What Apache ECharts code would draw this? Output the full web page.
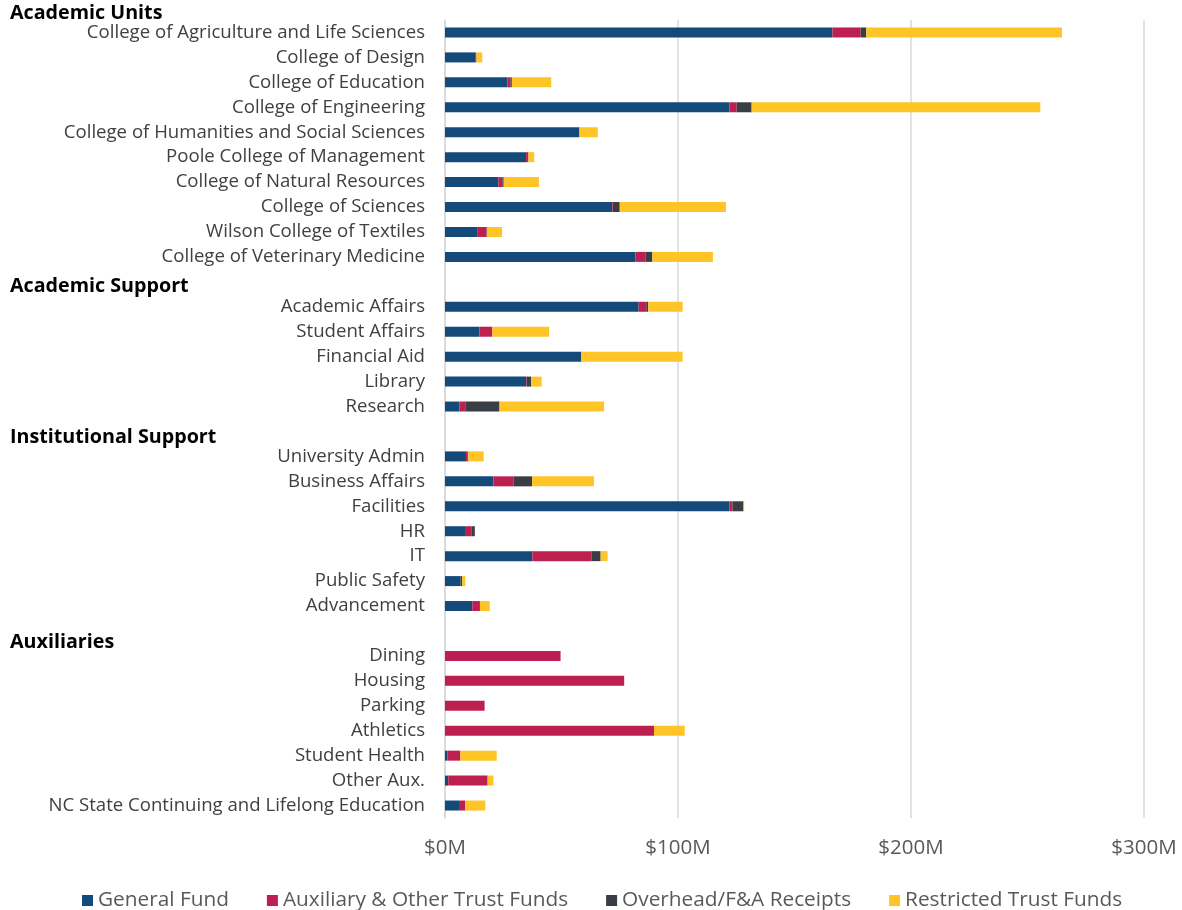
<!DOCTYPE html>
<html>
<head>
<meta charset="utf-8">
<script src="https://cdn.jsdelivr.net/npm/echarts@6/dist/echarts.min.js"></script>
<style>
  html, body { margin: 0; padding: 0; background: #ffffff; }
  #chart { width: 1182px; height: 910px; }
</style>
</head>
<body>
<div id="chart"></div>
<script>
// Category rows (blank strings are the group-header / spacer rows)
const categories = [
  'College of Agriculture and Life Sciences', 'College of Design', 'College of Education',
  'College of Engineering', 'College of Humanities and Social Sciences', 'Poole College of Management',
  'College of Natural Resources', 'College of Sciences', 'Wilson College of Textiles',
  'College of Veterinary Medicine',
  ' ',
  'Academic Affairs', 'Student Affairs', 'Financial Aid', 'Library', 'Research',
  '  ',
  'University Admin', 'Business Affairs', 'Facilities', 'HR', 'IT', 'Public Safety', 'Advancement',
  '   ',
  'Dining', 'Housing', 'Parking', 'Athletics', 'Student Health', 'Other Aux.',
  'NC State Continuing and Lifelong Education'
];

// Values in $M
const generalFund = [166.3, 13.2, 26.8, 122.1, 57.7, 34.8, 22.9, 71.8, 13.8, 81.7, null,
  83.1, 14.8, 58.5, 34.8, 6.2, null,
  9.0, 20.8, 122.1, 8.6, 37.5, 6.6, 11.7, null,
  0, 0, 0, 0, 1.0, 1.4, 6.4];
const auxiliaryOther = [12.1, 0.3, 1.3, 3.1, 0, 1.0, 1.7, 0.3, 4.0, 4.3, null,
  3.3, 5.5, 0, 0.3, 2.5, null,
  0.6, 8.7, 1.3, 2.7, 25.5, 0, 3.3, null,
  49.6, 76.9, 17.0, 89.7, 5.6, 16.9, 2.3];
const overheadFA = [2.4, 0, 0.6, 6.4, 0, 0, 0.6, 2.9, 0.2, 3.0, null,
  0.8, 0, 0, 1.9, 14.7, null,
  0.4, 7.9, 4.7, 1.5, 3.8, 0.8, 0, null,
  0, 0, 0, 0, 0, 0, 0];
const restricted = [84.0, 2.5, 16.9, 123.9, 7.9, 2.5, 15.1, 45.6, 6.5, 26.0, null,
  14.8, 24.4, 43.5, 4.5, 44.9, null,
  6.6, 26.5, 0.3, 0, 3.0, 1.3, 4.2, null,
  0, 0, 0, 13.2, 15.6, 2.5, 8.6];

const seriesNames = ['General Fund', 'Auxiliary & Other Trust Funds', 'Overhead/F&A Receipts', 'Restricted Trust Funds'];
const seriesColors = ['#134A7A', '#BE1F51', '#383E44', '#FFC425'];
const seriesValues = [generalFund, auxiliaryOther, overheadFA, restricted];

// Group headers and their label centre heights
const groupHeaders = ['Academic Units', 'Academic Support', 'Institutional Support', 'Auxiliaries'];
const groupHeaderY = [13, 286, 437, 642];

const xTicks = [0, 100, 200, 300];

const chart = echarts.init(document.getElementById('chart'), null, { renderer: 'canvas' });
const FONT = '"Open Sans", Lato, sans-serif';

const option = {
  backgroundColor: '#ffffff',
  textStyle: { fontFamily: FONT },
  animation: false,
  grid: { left: 445, right: 38, top: 20, bottom: 92, containLabel: false },
  xAxis: {
    type: 'value',
    min: xTicks[0],
    max: xTicks[xTicks.length - 1],
    interval: 100,
    axisLine: { show: false },
    axisTick: { show: false },
    splitLine: { show: true, lineStyle: { color: '#D9D9D9', width: 1.5 } },
    axisLabel: {
      formatter: v => '$' + v + 'M',
      color: '#595959', fontSize: 20.5, fontFamily: FONT, margin: 20
    }
  },
  yAxis: {
    type: 'category',
    inverse: true,
    data: categories,
    axisLine: { show: true, lineStyle: { color: '#D9D9D9', width: 1.5 } },
    axisTick: { show: false },
    axisLabel: { color: '#404040', fontSize: 18.6, fontFamily: FONT, margin: 20, interval: 0 }
  },
  legend: {
    top: 885,
    left: 77,
    icon: 'rect',
    itemWidth: 11,
    itemHeight: 11,
    itemGap: 38,
    textStyle: { color: '#595959', fontSize: 20.8, fontFamily: FONT },
    data: seriesNames
  },
  graphic: groupHeaders.map((t, i) => ({
    type: 'text',
    x: 10,
    y: groupHeaderY[i],
    style: { text: t, fontSize: 19.7, fontWeight: 'bold', fill: '#000000', fontFamily: FONT, verticalAlign: 'middle' }
  })),
  series: seriesNames.map((name, i) => ({
    name: name,
    type: 'bar',
    stack: 'total',
    barWidth: 10,
    itemStyle: { color: seriesColors[i] },
    data: seriesValues[i]
  }))
};
chart.setOption(option);
</script>
</body>
</html>
